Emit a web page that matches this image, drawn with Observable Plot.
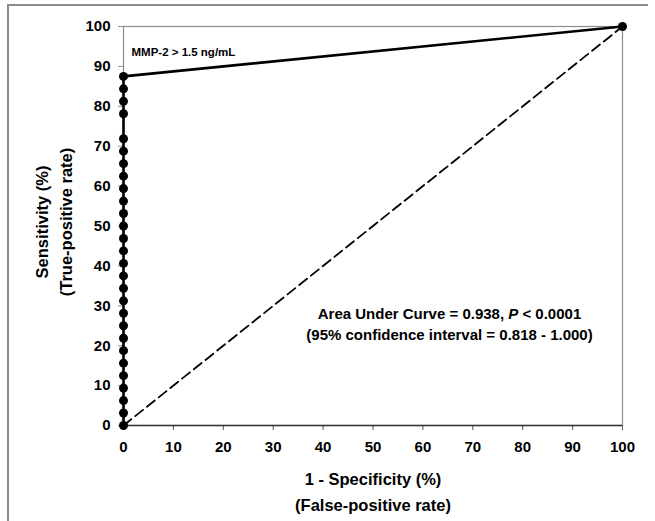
<!DOCTYPE html>
<html>
<head>
<meta charset="utf-8">
<script src="https://cdn.jsdelivr.net/npm/d3@7"></script>
<script src="https://cdn.jsdelivr.net/npm/@observablehq/plot@0.6"></script>
<style>
  html, body { margin: 0; padding: 0; background: #ffffff; }
  #wrap { position: relative; width: 655px; height: 521px; overflow: hidden; }
  #border { position: absolute; left: 7px; top: 4px; width: 639px; height: 560px;
            border-top: 2px solid #8c8c8c; border-left: 2px solid #8c8c8c; pointer-events: none; }
  #chart { position: absolute; left: 0; top: 0; }
</style>
</head>
<body>
<div id="wrap"><div id="border"></div><div id="chart"></div></div>
<script>
// ROC curve points: 1 - specificity (%) and sensitivity (%)
const fpr = [0, 0, 0, 0, 0, 0, 0, 0, 0, 0, 0, 0, 0, 0, 0, 0, 0, 0, 0, 0, 0, 0, 0, 0, 0, 0, 0, 0, 100];
const sensitivity = [0, 3.125, 6.25, 9.375, 12.5, 15.625, 18.75, 21.875, 25, 28.125, 31.25, 34.375,
  37.5, 40.625, 43.75, 46.875, 50, 53.125, 56.25, 59.375, 62.5, 65.625, 68.75, 71.875,
  78.125, 81.25, 84.375, 87.5, 100];
// reference (chance) diagonal
const diagX = [0, 100];
const diagY = [0, 100];
// tick labels
const xTicks = [0, 10, 20, 30, 40, 50, 60, 70, 80, 90, 100];
const yTicks = [0, 10, 20, 30, 40, 50, 60, 70, 80, 90, 100];
// texts
const xTitle = "1 - Specificity (%)\n(False-positive rate)";
const yTitle = "Sensitivity (%)\n(True-positive rate)";
const cutoffLabel = "MMP-2 > 1.5 ng/mL";
const aucLine1 = "Area Under Curve = 0.938, P < 0.0001";
const aucLine2 = "(95% confidence interval = 0.818 - 1.000)";

const roc = fpr.map((x, i) => ({x, y: sensitivity[i]}));
const diag = diagX.map((x, i) => ({x, y: diagY[i]}));

const font = "'Liberation Sans', Arial, Helvetica, sans-serif";

const chart = Plot.plot({
  width: 655,
  height: 521,
  marginLeft: 123,
  marginRight: 33,
  marginTop: 26,
  marginBottom: 96,
  x: {domain: [0, 100], label: null},
  y: {domain: [0, 100], label: null},
  style: {fontFamily: font, background: "transparent", overflow: "visible"},
  marks: [
    Plot.frame({stroke: "#8c8c8c", strokeWidth: 1.2}),
    Plot.axisY(yTicks, {tickSize: 5, tickPadding: 8, fontSize: 15, fontWeight: "bold",
      stroke: "#8c8c8c", fill: "black", label: null}),
    Plot.axisX(xTicks, {tickSize: 5, tickPadding: 11, fontSize: 15, fontWeight: "bold",
      stroke: "#555", fill: "black", label: null}),
    Plot.ruleY([0], {stroke: "#333", strokeWidth: 1.4}),
    Plot.line(diag, {x: "x", y: "y", stroke: "black", strokeWidth: 1.8, strokeDasharray: "10,5"}),
    Plot.line(roc, {x: "x", y: "y", stroke: "black", strokeWidth: 2.6}),
    Plot.dot(roc, {x: "x", y: "y", r: 4.5, fill: "black", stroke: "none"}),
    Plot.text([cutoffLabel], {frameAnchor: "top-left", dx: 8, dy: 26, textAnchor: "start",
      lineAnchor: "middle", fontSize: 11.5, fontWeight: "bold", fill: "black"}),
    Plot.text([aucLine1], {frameAnchor: "middle", dx: 76.5, dy: 88.5, textAnchor: "middle",
      lineAnchor: "middle", fontSize: 15, fontWeight: "bold", fill: "black"}),
    Plot.text([aucLine2], {frameAnchor: "middle", dx: 76.5, dy: 109.5, textAnchor: "middle",
      lineAnchor: "middle", fontSize: 15, fontWeight: "bold", fill: "black"}),
    Plot.text([xTitle], {frameAnchor: "bottom", dy: 64, textAnchor: "middle", lineAnchor: "middle",
      lineHeight: 1.6, fontSize: 16.5, fontWeight: "bold", fill: "black"}),
    Plot.text([yTitle], {frameAnchor: "left", dx: -71, dy: -4, rotate: -90, textAnchor: "middle",
      lineAnchor: "middle", lineHeight: 1.42, fontSize: 16.5, fontWeight: "bold", fill: "black"})
  ]
});

// italicise the "P" in the AUC line
chart.querySelectorAll("text").forEach(t => {
  if (t.textContent === aucLine1 && t.children.length === 0) {
    const [before, after] = aucLine1.split("P <");
    const ns = "http://www.w3.org/2000/svg";
    t.textContent = "";
    t.appendChild(document.createTextNode(before));
    const ts = document.createElementNS(ns, "tspan");
    ts.setAttribute("font-style", "italic");
    ts.textContent = "P";
    t.appendChild(ts);
    t.appendChild(document.createTextNode(" <" + after));
  }
});

document.getElementById("chart").appendChild(chart);
</script>
</body>
</html>
